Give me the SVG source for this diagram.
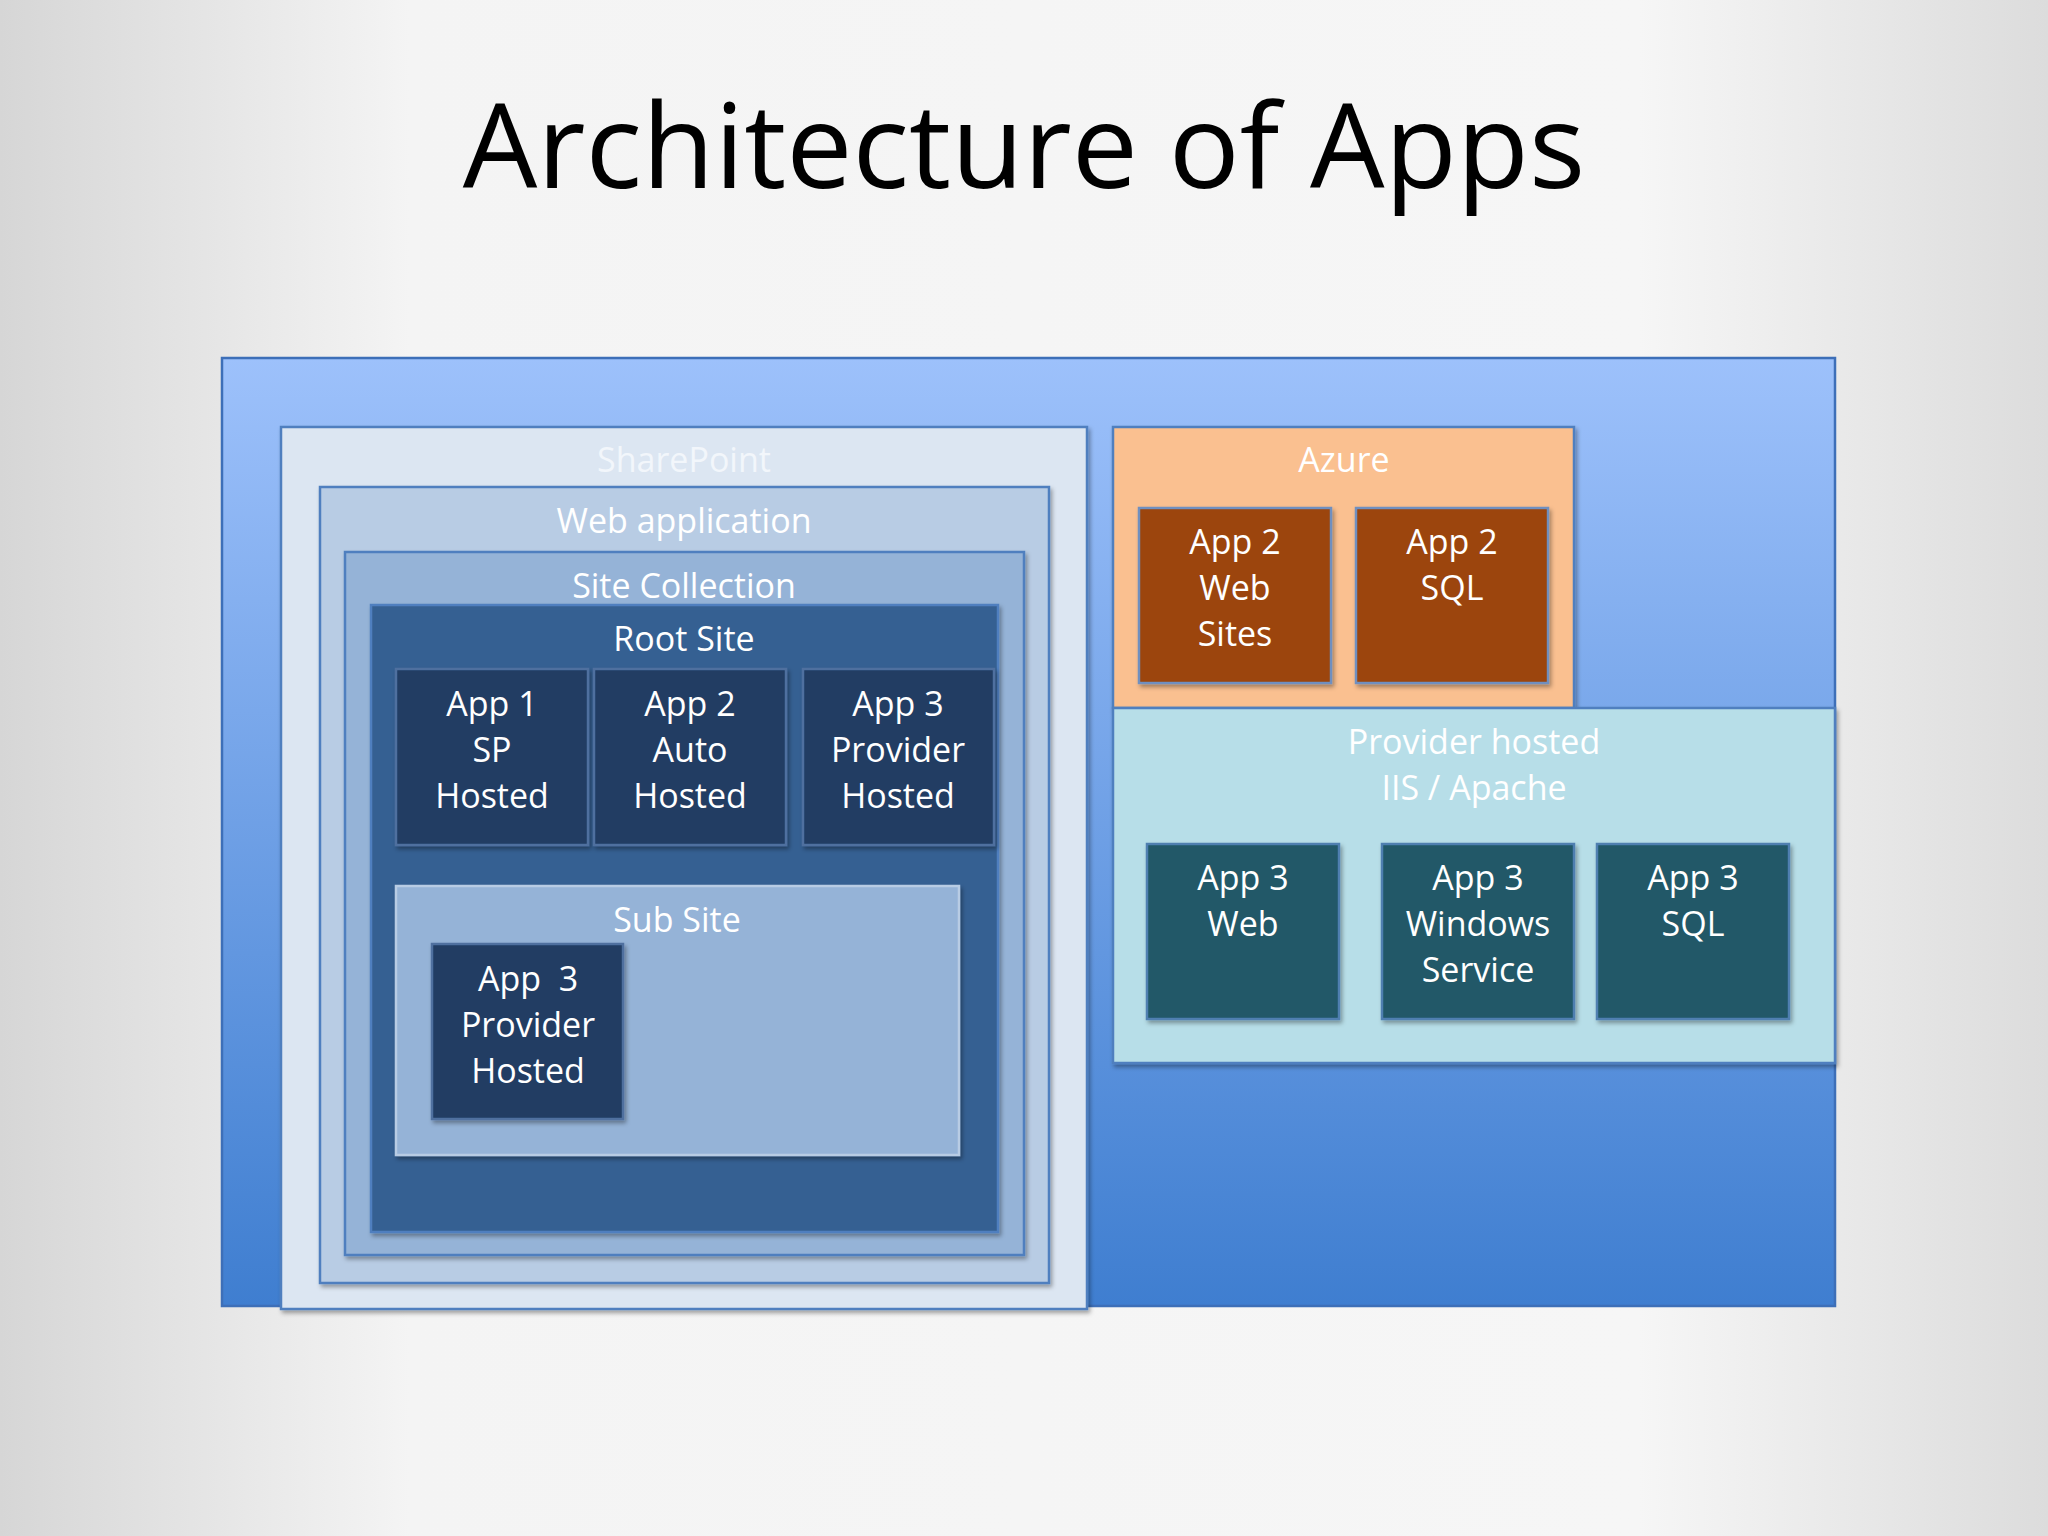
<svg xmlns="http://www.w3.org/2000/svg" width="2048" height="1536" viewBox="0 0 2048 1536">
<defs>
<linearGradient id="bg" x1="0" y1="0" x2="1" y2="0"><stop offset="0" stop-color="#d6d6d6"/><stop offset="0.2" stop-color="#f4f4f4"/><stop offset="0.8" stop-color="#f6f6f6"/><stop offset="1" stop-color="#dcdcdc"/></linearGradient>
<linearGradient id="outer" x1="0" y1="0" x2="0" y2="1"><stop offset="0" stop-color="#9dc1fb"/><stop offset="1" stop-color="#3f7ed0"/></linearGradient>
<filter id="sh" x="-5%" y="-5%" width="110%" height="110%"><feDropShadow dx="2" dy="3" stdDeviation="2" flood-opacity="0.35"/></filter>
</defs>
<style>
.t{font-family:"Open Sans","Noto Sans",sans-serif;font-size:34px;fill:#fff;text-anchor:middle}
.b{stroke-width:2.5;filter:url(#sh)}
.dk{fill:#213e64;stroke:#4f6f9f}
.or{fill:#9c4509;stroke:#6f8fbf}
.tl{fill:#215868;stroke:#4f7fb0}
</style>
<rect width="2048" height="1536" fill="url(#bg)"/>
<text x="1024" y="188" font-family="Open Sans, Noto Sans, sans-serif" font-size="118" text-anchor="middle" fill="#000">Architecture of Apps</text>
<g id="outer"><rect x="222" y="358" width="1613" height="948" fill="url(#outer)" stroke="#3d6fb8" stroke-width="2.5"/></g>
<g id="sharepoint"><rect class="b" x="281" y="427" width="806" height="882" fill="#dce6f2" stroke="#4f7fbf"/><text class="t" x="684" y="472" fill="#eef3fa" style="fill:#f2f6fb">SharePoint</text></g>
<g id="webapp"><rect class="b" x="320" y="487" width="729" height="796" fill="#b8cce4" stroke="#4f7fbf"/><text class="t" x="684" y="533">Web application</text></g>
<g id="sitecollection"><rect class="b" x="345" y="552" width="679" height="703" fill="#95b3d7" stroke="#4f7fbf"/><text class="t" x="684" y="598">Site Collection</text></g>
<g id="rootsite"><rect class="b" x="371" y="605" width="627" height="627" fill="#366092" stroke="#4f7fbf"/><text class="t" x="684" y="651">Root Site</text></g>
<g id="app1"><rect class="b dk" x="396" y="669" width="192" height="176"/><text class="t" x="492" y="716">App 1</text><text class="t" x="492" y="762">SP</text><text class="t" x="492" y="808">Hosted</text></g>
<g id="app2"><rect class="b dk" x="594" y="669" width="192" height="176"/><text class="t" x="690" y="716">App 2</text><text class="t" x="690" y="762">Auto</text><text class="t" x="690" y="808">Hosted</text></g>
<g id="app3"><rect class="b dk" x="803" y="669" width="191" height="176"/><text class="t" x="898" y="716">App 3</text><text class="t" x="898" y="762">Provider</text><text class="t" x="898" y="808">Hosted</text></g>
<g id="subsite"><rect class="b" x="396" y="886" width="563" height="269" fill="#95b3d7" stroke="#b8cce4"/><text class="t" x="677" y="932">Sub Site</text></g>
<g id="app3sub"><rect class="b dk" x="432" y="944" width="191" height="175"/><text class="t" x="528" y="991" xml:space="preserve">App  3</text><text class="t" x="528" y="1037">Provider</text><text class="t" x="528" y="1083">Hosted</text></g>
<g id="azure"><rect class="b" x="1113" y="427" width="461" height="281" fill="#fac090" stroke="#4f7fbf"/><text class="t" x="1344" y="472">Azure</text></g>
<g id="app2web"><rect class="b or" x="1139" y="508" width="192" height="175"/><text class="t" x="1235" y="554">App 2</text><text class="t" x="1235" y="600">Web</text><text class="t" x="1235" y="646">Sites</text></g>
<g id="app2sql"><rect class="b or" x="1356" y="508" width="192" height="175"/><text class="t" x="1452" y="554">App 2</text><text class="t" x="1452" y="600">SQL</text></g>
<g id="provider"><rect class="b" x="1113" y="708" width="722" height="355" fill="#b7dee8" stroke="#4f7fbf"/><text class="t" x="1474" y="754">Provider hosted</text><text class="t" x="1474" y="800">IIS / Apache</text></g>
<g id="app3web"><rect class="b tl" x="1147" y="844" width="192" height="175"/><text class="t" x="1243" y="890">App 3</text><text class="t" x="1243" y="936">Web</text></g>
<g id="app3win"><rect class="b tl" x="1382" y="844" width="192" height="175"/><text class="t" x="1478" y="890">App 3</text><text class="t" x="1478" y="936">Windows</text><text class="t" x="1478" y="982">Service</text></g>
<g id="app3sql"><rect class="b tl" x="1597" y="844" width="192" height="175"/><text class="t" x="1693" y="890">App 3</text><text class="t" x="1693" y="936">SQL</text></g>
<g id="connectors"/>
</svg>
